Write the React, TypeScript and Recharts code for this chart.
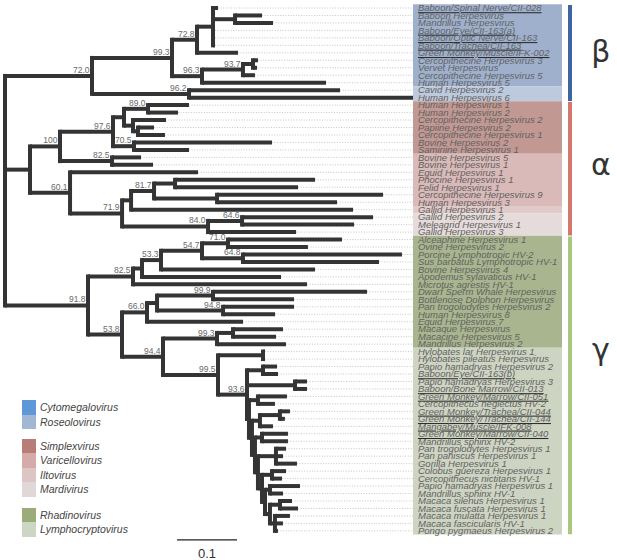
import React from 'react';
import { ScatterChart, Scatter, XAxis, YAxis, ReferenceLine, ReferenceArea } from 'recharts';

// leaf order, top to bottom. Numbers in the newick strings point into this list (1-based)
const taxa = [
  'Baboon/Spinal Nerve/CII-028', 'Baboon Herpesvirus', 'Mandrillus Herpesvirus', 'Baboon/Eye/CII-163(a)',
  'Baboon/Optic Nerve/CII-163', 'Baboon/Trachea/CII-163', 'Green Monkey/Muscle/IFK-002', 'Cercopithecine Herpesvirus 3',
  'Vervet Herpesvirus', 'Cercopithecine Herpesvirus 5', 'Human Herpesvirus 5', 'Cavid Herpesvirus 2',
  'Human Herpesvirus 6', 'Human Herpesvirus 1', 'Human Herpesvirus 2', 'Cercopithecine Herpesvirus 2',
  'Papiine Herpesvirus 2', 'Cercopithecine Herpesvirus 1', 'Bovine Herpesvirus 2', 'Samiriine Herpesvirus 1',
  'Bovine Herpesvirus 5', 'Bovine Herpesvirus 1', 'Equid Herpesvirus 1', 'Phocine Herpesvirus 1',
  'Felid Herpesvirus 1', 'Cercopithecine Herpesvirus 9', 'Human Herpesvirus 3', 'Gallid Herpesvirus 1',
  'Gallid Herpesvirus 2', 'Meleagrid Herpesvirus 1', 'Gallid Herpesvirus 3', 'Alceaphine Herpesvirus 1',
  'Ovine Herpesvirus 2', 'Porcine Lymphotropic HV-2', 'Sus barbatus Lymphotropic HV-1', 'Bovine Herpesvirus 4',
  'Apodemus sylavaticus HV-1', 'Microtus agrestis HV-1', 'Dwarf Sperm Whale Herpesvirus', 'Bottlenose Dolphon Herpesvirus',
  'Pan trogolodytes Herpesvirus 2', 'Human Herpesvirus 8', 'Equid Herpesvirus 7', 'Macaque Herpesvirus',
  'Macacine Herpesvirus 5', 'Mandrillus Herpesvirus 2', 'Hylobates lar Herpesvirus 1', 'Hylobates pileatus Herpesvirus',
  'Papio hamadryas Herpesvirus 2', 'Baboon/Eye/CII-163(b)', 'Papio hamadryas Herpesvirus 3', 'Baboon/Bone Marrow/CII-013',
  'Green Monkey/Marrow/CII-051', 'Cercopithecus neglectus HV-2', 'Green Monkey/Trachea/CII-044', 'Green Monkey/Trachea/CII-144',
  'Mangabey/Muscle/IFK-008', 'Green Monkey/Marrow/CII-040', 'Mandrillus sphinx HV-2', 'Pan trogolodytes Herpesvirus 1',
  'Pan paniscus Herpesvirus 1', 'Gorilla Herpesvirus 1', 'Colobus guereza Herpesvirus 1', 'Cercopithecus nictitans HV-1',
  'Papio hamadryas Herpesvirus 1', 'Mandrillus sphinx HV-1', 'Macaca silenus Herpesvirus 1', 'Macaca fuscata Herpesvirus 1',
  'Macaca mulatta Herpesvirus 1', 'Macaca fascicularis HV-1', 'Pongo pygmaeus Herpesvirus 2',
];

// samples from this study (underlined)
const newSamples = [1, 4, 5, 6, 7, 50, 52, 53, 55, 56, 57, 58];

// newick pieces: branch lengths (subst./site), internal labels = bootstrap support
const betaClade =
  '((((1:0.0083,(2:0.045,3:0.0633):0.0367,4:0.0033,5:0.0033,6:0.0033):0.0267,7:0.0683)72.8:0.0417,' +
  '(((8:0.0083,9:0.0067):0.0167,10:0.02)93.7:0.0683,11:0.2067)96.3:0.05)99.3:0.1333,' +
  '(12:0.2517,13:0.3733)96.2:0.1617)72.0:0.145';
const alphaClade =
  '(((((14:0.0683,15:0.05)89.0:0.04,(16:0.055,(17:0.0267,18:0.045):0.0083):0.015):0.0183,' +
  '(19:0.23,20:0.0917)70.5:0.035)97.6:0.0883,(21:0.0483,22:0.0683)82.5:0.0867)100:0.05,' +
  '(23:0.2133,((((24:0.2333,25:0.205):0.035,(26:0.2767,27:0.2):0.105)81.7:0.0383,28:0.37):0.015,' +
  '((29:0.2183,30:0.1867)64.6:0.0567,31:0.1467)84.0:0.1433)71.9:0.0867)60.1:0.0667):0.0417';
const rhadinoUpper =
  '(((((32:0.19,33:0.1333)71.0:0.0433,(34:0.265,35:0.2267)64.8:0.0683)54.7:0.0683,36:0.2567)53.3:0.0317,' +
  '37:0.2317):0.015,38:0.29)82.5:0.075';
const rhadinoMarine = '(((39:0.2567,40:0.135)99.9:0.0933,(41:0.1183,42:0.0867)94.8:0.11):0.0167,43:0.16)66.0:0.0417';
const rhadinoMacaque = '((44:0.0833,45:0.0717):0.0267,46:0.115)99.3:0.09';
const lymphoLadder =
  '((53:0.0483,54:0.0283):0.015,(((55:0.0167,56:0.0083):0.0333,57:0.0217):0.0133,((58:0.0433,59:0.0433):0.0117,' +
  '((60:0.0167,61:0.0117,62:0.035):0.03,((63:0.0233,64:0.0167):0.0167,((65:0.05,66:0.0217):0.0083,' +
  '((67:0.02,68:0.03):0.0167,(69:0.025,70:0.0133,71:0.005):0.0083):0.0083):0.005):0.0067):0.005):0.005):0.005):0.0033';
const gammaClade =
  `(${rhadinoUpper},(${rhadinoMarine},(${rhadinoMacaque},((47:0.0033,48:0.0033):0.075,` +
  `((49:0.0233,50:0.025):0.0267,(51:0.02,52:0.02):0.08,${lymphoLadder})93.6:0.0483)99.5:0.0917)94.4:0.0683)53.8:0.0567)91.8:0.1383`;
const newick = `(${betaClade},${alphaClade},${gammaClade});`;

// genus shading, by leaf range
const genusNames = ['Cytomegalovirus', 'Roseolovirus', 'Simplexvirus', 'Varicellovirus', 'Iltovirus', 'Mardivirus', 'Rhadinovirus', 'Lymphocryptovirus'];
const genusRanges = [[1, 11], [12, 13], [14, 20], [21, 27], [28, 28], [29, 31], [32, 46], [47, 71]];
const subfamilies = ['β', 'α', 'γ'];
const subfamilyRanges = [[1, 13], [14, 31], [32, 71]];

// styling
const genusBox = ['#9fb0cd', '#bdcadd', '#c19892', '#d9bab8', '#e1cbca', '#e5dbdb', '#a9b58e', '#ced4c2'];
const genusSwatch = ['#5f98d6', '#a2b7d4', '#b67e77', '#d6aaa8', '#dcc5c4', '#e1d6d8', '#9cab7a', '#cdd6c3'];
const subfamilyBar = ['#3f64a0', '#d3776f', '#a9c77f'];
const greekBaseline = [7.2, 22.3, 47.1];
const legendGroups = [[0, 1], [2, 3, 4, 5], [6, 7]];

const W = 617, H = 560;
const X_MAX = 1.02;              // 612px plot -> 0.1 = 60px
const Y_MIN = -1.07, Y_MAX = 73.9; // leaf rows
const BOX_X1 = 0.68, BOX_X2 = 0.9283, LABEL_X = 0.6883, BAR_X = 0.9417, GREEK_X = 0.993;
const SCALE_X = 0.2867;

type TNode = { leaf?: number; support?: string; length: number; children: TNode[]; x: number; y: number };

function parseNewick(s: string): TNode {
  let i = 0;
  const readToken = (stops: string) => {
    let t = '';
    while (i < s.length && !stops.includes(s[i])) t += s[i++];
    return t;
  };
  const node = (): TNode => {
    const n: TNode = { length: 0, children: [], x: 0, y: 0 };
    if (s[i] === '(') {
      i++;
      n.children.push(node());
      while (s[i] === ',') { i++; n.children.push(node()); }
      i++;
      const lab = readToken(':,);');
      if (lab) n.support = lab;
    } else {
      n.leaf = parseInt(readToken(':,);'), 10);
    }
    if (s[i] === ':') { i++; n.length = parseFloat(readToken(',);')); }
    return n;
  };
  return node();
}

function layout(n: TNode, x0: number) {
  n.x = x0 + n.length;
  if (n.leaf) { n.y = n.leaf - 1; return; }
  n.children.forEach(c => layout(c, n.x));
  n.y = (n.children[0].y + n.children[n.children.length - 1].y) / 2;
}

const root = parseNewick(newick);
layout(root, 0);

const hSegs: { x1: number; x2: number; y: number }[] = [];
const vSegs: { x: number; y1: number; y2: number }[] = [];
const tips: { x: number; y: number; name: string; ul: boolean }[] = [];
const supports: { x: number; y: number; label: string }[] = [];
(function walk(n: TNode, parent: TNode | null) {
  if (parent) hSegs.push({ x1: parent.x, x2: n.x, y: n.y });
  if (n.leaf) {
    tips.push({ x: n.x, y: n.y, name: taxa[n.leaf - 1], ul: newSamples.includes(n.leaf) });
    return;
  }
  vSegs.push({ x: n.x, y1: n.children[0].y, y2: n.children[n.children.length - 1].y });
  if (n.support) supports.push({ x: n.x, y: n.y, label: n.support });
  n.children.forEach(c => walk(c, n));
})(root, null);

const labelPoints = tips.map(t => ({ x: LABEL_X, y: t.y, name: t.name, ul: t.ul }));
const greekPoints = subfamilies.map((g, k) => ({ x: GREEK_X, y: greekBaseline[k], label: g }));
const scalePoint = [{ x: SCALE_X + 0.05, y: 72.95, label: '0.1' }];

const sans = '"Liberation Sans", Arial, sans-serif';
const branch = '#343434';

const LeafLabel = (p: any) => {
  const { cx, cy, payload } = p;
  if (payload.ul) {
    return (
      <text x={cx} y={cy + 3.3} fontSize={9.5} fontStyle="italic" fontFamily={sans} fill="#1c1c1c"
        style={{ textDecoration: 'underline', textDecorationThickness: '1.6px' } as any}>
        <tspan fill="#626262">{payload.name}</tspan>
      </text>
    );
  }
  return (
    <text x={cx} y={cy + 3.3} fontSize={9.5} fontStyle="italic" fontFamily={sans} fill="#626262">{payload.name}</text>
  );
};

const SupportLabel = (p: any) => (
  <text x={p.cx - 2.5} y={p.cy - 3} fontSize={8.5} fontFamily={sans} fill="#6a6a6a" textAnchor="end">{p.payload.label}</text>
);

const GreekLabel = (p: any) => (
  <text x={p.cx} y={p.cy} fontSize={30} fontFamily='"DejaVu Sans", sans-serif' fill="#333" textAnchor="middle">{p.payload.label}</text>
);

const ScaleLabel = (p: any) => (
  <text x={p.cx} y={p.cy + 5} fontSize={13} fontFamily={sans} fill="#333" textAnchor="middle">{p.payload.label}</text>
);

export default function App() {
  return (
    <div style={{ position: 'absolute', left: 0, top: 0, width: W, height: H, background: '#fff' }}>
      <ScatterChart width={W} height={H} margin={{ top: 0, right: 0, bottom: 0, left: 5 }}>
        <XAxis type="number" dataKey="x" domain={[0, X_MAX]} allowDataOverflow hide />
        <YAxis type="number" dataKey="y" domain={[Y_MIN, Y_MAX]} allowDataOverflow reversed hide />

        {genusRanges.map(([a, b], k) => (
          <ReferenceArea key={`box-${k}`} x1={BOX_X1} x2={BOX_X2} y1={a - 1.5} y2={b - 0.5}
            fill={genusBox[k]} fillOpacity={1} stroke="none" />
        ))}

        {subfamilyRanges.map(([a, b], k) => (
          <ReferenceLine key={`bar-${k}`} segment={[{ x: BAR_X, y: a - 1.4 }, { x: BAR_X, y: b - 0.55 }]}
            stroke={subfamilyBar[k]} strokeWidth={4} />
        ))}

        {tips.filter(t => t.x < BOX_X1).map((t, k) => (
          <ReferenceLine key={`dot-${k}`} segment={[{ x: t.x, y: t.y }, { x: BOX_X1, y: t.y }]}
            stroke="#b8b8b8" strokeWidth={0.8} strokeDasharray="1 1.6" />
        ))}

        {hSegs.map((s, k) => (
          <ReferenceLine key={`h-${k}`} segment={[{ x: s.x1, y: s.y }, { x: Math.min(s.x2, BOX_X1), y: s.y }]}
            stroke={branch} strokeWidth={4} />
        ))}
        {vSegs.map((s, k) => (
          <ReferenceLine key={`v-${k}`} segment={[{ x: s.x, y: s.y1 }, { x: s.x, y: s.y2 }]}
            stroke={branch} strokeWidth={4} strokeLinecap="square" />
        ))}

        <ReferenceLine segment={[{ x: SCALE_X, y: 71.2 }, { x: SCALE_X + 0.1, y: 71.2 }]} stroke="#222" strokeWidth={1.2} />

        <Scatter data={supports} isAnimationActive={false} shape={SupportLabel} />
        <Scatter data={labelPoints} isAnimationActive={false} shape={LeafLabel} />
        <Scatter data={greekPoints} isAnimationActive={false} shape={GreekLabel} />
        <Scatter data={scalePoint} isAnimationActive={false} shape={ScaleLabel} />
      </ScatterChart>

      <div style={{ position: 'absolute', left: 22, top: 400, fontFamily: sans, fontStyle: 'italic', fontSize: 10.5, color: '#444' }}>
        {legendGroups.map((g, gi) => (
          <div key={gi} style={{ marginBottom: gi === 0 ? 9.5 : 11 }}>
            {g.map(k => (
              <div key={k} style={{ display: 'flex', alignItems: 'center', height: 14.5 }}>
                <span style={{ display: 'inline-block', width: 14, height: 14.5, background: genusSwatch[k] }} />
                <span style={{ marginLeft: 4 }}>{genusNames[k]}</span>
              </div>
            ))}
          </div>
        ))}
      </div>
    </div>
  );
}
